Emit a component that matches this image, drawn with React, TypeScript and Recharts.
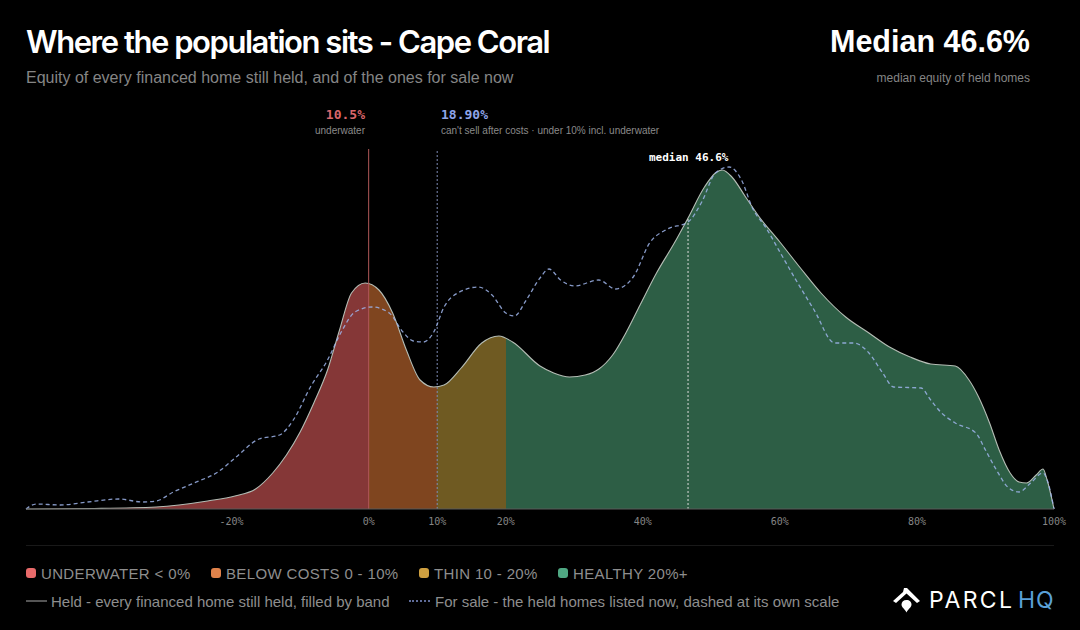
import { Area, ComposedChart, Line, ReferenceLine, XAxis, YAxis } from "recharts";

// equity %, and curve height (both series on the same plot scale)
const heldEquity = [
  -50, -40, -31, -23.5, -19.5, -16.5, -14, -12, -10, -8, -6, -4.25, -2.5, -0.5, 1.5, 3.5, 5.5, 7.5, 9.5, 11,
  13.5, 16.5, 19, 21, 25, 27, 29.3, 31.6, 33.6, 35.6, 37.6, 39.6, 42, 44.6, 46.6, 49, 50.6, 51.6, 53, 55, 57,
  60, 63, 66, 69.6, 73, 76, 79, 82, 85.6, 87.6, 89, 90.6, 92, 93.6, 94.9, 96, 97.4, 98.4, 99, 100,
];
const heldDensity = [
  0, 0.5, 2, 8, 13, 20, 36, 54, 77, 106, 139, 179, 216, 226, 219, 196, 159, 129, 122, 124,
  141, 166, 173, 167, 143, 136, 132, 134, 140, 154, 177, 204, 236, 266, 291, 322, 336, 339, 332, 312, 292,
  267, 241, 216, 192, 176, 162, 152, 145, 143, 129, 112, 86, 59, 36, 27, 26, 34, 40, 29, 0,
];
const saleEquity = [
  -50, -48.5, -45, -41, -36.5, -33, -31, -28.5, -25.5, -22, -19.5, -16, -13, -11, -8.5, -6, -4, -2, 0.5, 3, 5,
  6.5, 8, 9.5, 11, 13, 16, 18, 20, 21.25, 23, 25, 26.3, 28, 30, 33.6, 36, 38.6, 41, 43.6, 46.6, 48.6, 50.6,
  52.6, 54.4, 56, 58, 60, 62.6, 65, 68, 70.8, 73, 75, 76.6, 80.6, 82, 83.6, 85.6, 88.6, 90, 91.6, 93.4, 94.9,
  96.6, 98.4, 99, 100,
];
const saleDensity = [
  0, 5, 4, 7, 10, 7, 8, 17, 26, 37, 51, 70, 74, 89, 122, 149, 177, 197, 202, 196, 177,
  168, 167, 177, 202, 216, 222, 214, 196, 193, 209, 231, 240, 229, 223, 229, 220, 232, 266, 280, 287, 307, 336,
  342, 329, 301, 281, 257, 226, 199, 166, 166, 156, 136, 122, 121, 109, 96, 86, 76, 59, 39, 21, 17,
  26, 36, 29, 0,
];
const xTicks = [-20, 0, 10, 20, 40, 60, 80, 100];
const xDomain = [-50, 100];

const bands = [
  { label: "UNDERWATER < 0%", swatch: "#e86a6a", fill: "#853737", from: -50, to: 0 },
  { label: "BELOW COSTS 0 - 10%", swatch: "#e0824a", fill: "#7f451f", from: 0, to: 10 },
  { label: "THIN 10 - 20%", swatch: "#cfa040", fill: "#6f5a22", from: 10, to: 20 },
  { label: "HEALTHY 20%+", swatch: "#4fa883", fill: "#2d5e45", from: 20, to: 100 },
];

const allEquity = [...new Set([...heldEquity, ...saleEquity])].sort((a, b) => a - b);
const table = allEquity.map((equity) => {
  const h = heldEquity.indexOf(equity);
  const s = saleEquity.indexOf(equity);
  return {
    equity,
    held: h >= 0 ? heldDensity[h] : null,
    sale: s >= 0 ? saleDensity[s] : null,
  };
});

const pct = (v: number) => `${((v - xDomain[0]) / (xDomain[1] - xDomain[0])) * 100}%`;
const SANS = "'Liberation Sans', Arial, sans-serif";
const MONO = "'DejaVu Sans Mono', monospace";

function Txt({ style, children }: any) {
  return (
    <div style={{ position: "absolute", whiteSpace: "nowrap", fontFamily: SANS, lineHeight: 1, ...style }}>
      {children}
    </div>
  );
}

function Logo() {
  return (
    <svg width={30} height={28} viewBox="0 0 30 28" style={{ position: "absolute", left: 892, top: 587 }}>
      <path d="M1 14 L11 5 L12 1 L15 1 L28 14 L25 16 L14.5 6.5 L4 16 Z" fill="#fff" />
      <path d="M14.5 13 C17.5 13 19.5 15 19.5 17.5 C19.5 20.5 16 22 14.5 25.5 C13 22 9.5 20.5 9.5 17.5 C9.5 15 11.5 13 14.5 13 Z" fill="#fff" />
    </svg>
  );
}

export default function App() {
  return (
    <div style={{ position: "relative", width: 1080, height: 630, background: "#000", overflow: "hidden" }}>
      <style>{"body{margin:0;background:#000}"}</style>

      <Txt style={{ left: 26, top: 26, fontSize: 31, fontWeight: 600, color: "#fff", letterSpacing: -1.46, fontFamily: "Inter, sans-serif" }}>
        Where the population sits - Cape Coral
      </Txt>
      <Txt style={{ left: 26, top: 70, fontSize: 16, color: "#858585" }}>
        Equity of every financed home still held, and of the ones for sale now
      </Txt>
      <Txt style={{ right: 50, top: 26, fontSize: 30.5, fontWeight: 700, color: "#fff" }}>Median 46.6%</Txt>
      <Txt style={{ right: 50, top: 72, fontSize: 12, color: "#858585" }}>median equity of held homes</Txt>

      <Txt style={{ right: 715, top: 108, fontSize: 13, fontWeight: 700, color: "#d9666a", fontFamily: MONO }}>10.5%</Txt>
      <Txt style={{ right: 715, top: 126, fontSize: 10, color: "#8a8a8a" }}>underwater</Txt>
      <Txt style={{ left: 441, top: 108, fontSize: 13, fontWeight: 700, color: "#8ea4e8", fontFamily: MONO }}>18.90%</Txt>
      <Txt style={{ left: 441, top: 126, fontSize: 10, color: "#8a8a8a" }}>
        can't sell after costs · under 10% incl. underwater
      </Txt>
      <Txt style={{ left: 649, top: 152, fontSize: 11, fontWeight: 700, color: "#fff", fontFamily: MONO }}>median 46.6%</Txt>

      <div style={{ position: "absolute", left: 0, top: 0 }}>
        <ComposedChart
          width={1080}
          height={630}
          data={table}
          margin={{ top: 149, right: 26, bottom: 91, left: 26 }}
        >
          <defs>
            <linearGradient id="bandFill" x1="0" y1="0" x2="1" y2="0">
              {bands.flatMap((b) => [
                <stop key={b.label + "a"} offset={pct(b.from)} stopColor={b.fill} />,
                <stop key={b.label + "b"} offset={pct(b.to)} stopColor={b.fill} />,
              ])}
            </linearGradient>
          </defs>
          <XAxis
            dataKey="equity"
            type="number"
            domain={xDomain}
            ticks={xTicks}
            tickFormatter={(v) => `${v}%`}
            interval={0}
            height={30}
            axisLine={{ stroke: "#5a5a5a" }}
            tickLine={false}
            tickMargin={3}
            tick={{ fill: "#858585", fontSize: 10, fontFamily: MONO }}
          />
          <YAxis hide domain={[0, 360]} />
          <Area
            dataKey="held"
            type="monotone"
            connectNulls
            fill="url(#bandFill)"
            fillOpacity={1}
            stroke="#b5bdb5"
            strokeWidth={1.1}
            dot={false}
            isAnimationActive={false}
          />
          <ReferenceLine x={0} stroke="#b05858" strokeWidth={1} />
          <ReferenceLine x={10} stroke="#7f8bb5" strokeWidth={1} strokeDasharray="2 2" />
          <ReferenceLine
            segment={[{ x: 46.6, y: 0 }, { x: 46.6, y: 291 }]}
            stroke="#dcdcdc"
            strokeWidth={1}
            strokeDasharray="2 2"
          />
          <Line
            dataKey="sale"
            type="monotone"
            connectNulls
            stroke="#9db4ea"
            strokeOpacity={0.85}
            strokeWidth={1.3}
            strokeDasharray="4 3"
            dot={false}
            isAnimationActive={false}
          />
        </ComposedChart>
      </div>

      <div style={{ position: "absolute", left: 26, top: 545, width: 1028, height: 1, background: "#191919" }} />

      {bands.map((b, i) => (
        <div key={b.label}>
          <div
            style={{
              position: "absolute",
              left: [26, 211, 419, 558][i],
              top: 568,
              width: 10,
              height: 10,
              borderRadius: 3,
              background: b.swatch,
            }}
          />
          <Txt style={{ left: [41, 226, 434, 573][i], top: 566, fontSize: 15, letterSpacing: 0.35, color: "#8e8e8e" }}>{b.label}</Txt>
        </div>
      ))}

      <div style={{ position: "absolute", left: 26, top: 600, width: 21, height: 2, background: "#555" }} />
      <Txt style={{ left: 51, top: 594, fontSize: 15, color: "#8e8e8e" }}>
        Held - every financed home still held, filled by band
      </Txt>
      <div style={{ position: "absolute", left: 409, top: 600, width: 21, height: 0, borderTop: "2px dotted #5f6c99" }} />
      <Txt style={{ left: 435, top: 594, fontSize: 15, color: "#8e8e8e" }}>
        For sale - the held homes listed now, dashed at its own scale
      </Txt>

      <Logo />
      <Txt style={{ left: 929, top: 589, fontSize: 23, color: "#fff", letterSpacing: 2.4, fontFamily: "Inter, sans-serif", fontWeight: 400 }}>
        PARCL
      </Txt>
      <Txt style={{ left: 1018, top: 589, fontSize: 23, color: "#5aa0d8", letterSpacing: 1, fontFamily: "Inter, sans-serif", fontWeight: 400 }}>
        HQ
      </Txt>
    </div>
  );
}
